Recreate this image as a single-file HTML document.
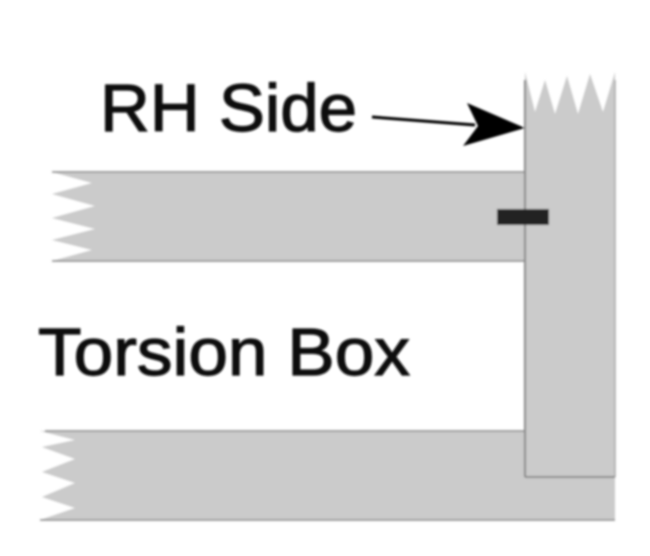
<!DOCTYPE html>
<html><head><style>
html,body{margin:0;padding:0;background:#fff;width:650px;height:556px;overflow:hidden}
</style></head><body>
<svg width="650" height="556" viewBox="0 0 650 556" xmlns="http://www.w3.org/2000/svg">
<defs><filter id="b"><feGaussianBlur stdDeviation="1"/></filter></defs>
<g filter="url(#b)">
<polygon points="52,172 525,172 525,261 52,261 92,250 52,240 95,229 52,218 95,206 52,194 92,183" fill="#cbcbcb"/>
<line x1="52" y1="172" x2="525" y2="172" stroke="#888" stroke-width="1.5"/>
<line x1="52" y1="261" x2="525" y2="261" stroke="#888" stroke-width="1.5"/>
<polygon points="40,431 615,431 615,520 40,520 75,508 42,497 75,483 42,472 75,459 42,447 75,440" fill="#cbcbcb"/>
<line x1="45" y1="431" x2="525" y2="431" stroke="#888" stroke-width="1.5"/>
<line x1="40" y1="520" x2="615" y2="520" stroke="#888" stroke-width="1.5"/>
<polygon points="525,72 535,112 545,80 555,114 567,76 578,114 590,74 603,112 615,72 615,477 525,477" fill="#cbcbcb"/>
<line x1="525" y1="80" x2="525" y2="477" stroke="#888" stroke-width="2"/>
<line x1="615" y1="80" x2="615" y2="477" stroke="#aaa" stroke-width="1.5"/>
<line x1="525" y1="477" x2="615" y2="477" stroke="#777" stroke-width="1.5"/>
<rect x="497" y="209" width="52" height="16" fill="#222"/>
<line x1="372" y1="117" x2="475" y2="125" stroke="#000" stroke-width="3"/>
<polygon points="525,128 467,103 478,126 463,146" fill="#000"/>
</g>
<g font-family="'Liberation Sans',sans-serif" font-size="67" fill="#111" stroke="#111" stroke-width="1.2" filter="url(#b)">
<text x="100" y="131" textLength="257" lengthAdjust="spacingAndGlyphs">RH Side</text>
<text x="38" y="375" textLength="372" lengthAdjust="spacingAndGlyphs">Torsion Box</text>
</g>
</svg>
</body></html>
